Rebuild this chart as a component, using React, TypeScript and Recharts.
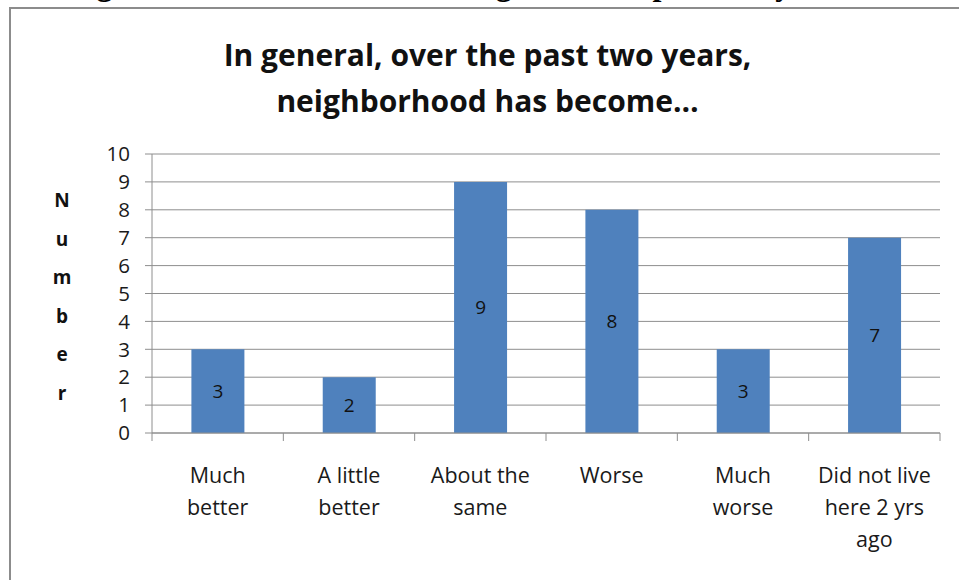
import { BarChart, Bar, XAxis, YAxis, CartesianGrid, LabelList } from 'recharts';

// Answers to "over the past two years, neighborhood has become..."
const categories = ['Much\nbetter', 'A little\nbetter', 'About the\nsame', 'Worse', 'Much\nworse', 'Did not live\nhere 2 yrs\nago'];
const counts = [3, 2, 9, 8, 3, 7];
const yTicks = [0, 1, 2, 3, 4, 5, 6, 7, 8, 9, 10];
const yLabelLetters = ['N', 'u', 'm', 'b', 'e', 'r'];

const data = categories.map((name, i) => ({ name, count: counts[i] }));

const FONT = '"Open Sans", Lato, sans-serif';
const GRID = '#8e8e8e';

// category label, wrapped on \n, plus tick marks at the band edges
function CategoryTick({ x, y, payload, index }: any) {
  const half = payload.offset ?? 0;
  const lines = String(payload.value).split('\n');
  return (
    <g>
      <line x1={x - half} x2={x - half} y1={y - 8} y2={y} stroke={GRID} />
      {index === categories.length - 1 && (
        <line x1={x + half} x2={x + half} y1={y - 8} y2={y} stroke={GRID} />
      )}
      <text x={x} y={y + 42} textAnchor="middle" fontFamily={FONT} fontSize={21.5} fill="#1a1a1a">
        {lines.map((l, i) => (
          <tspan key={i} x={x} dy={i === 0 ? 0 : 32}>{l}</tspan>
        ))}
      </text>
    </g>
  );
}

function StackedYLabel({ viewBox }: any) {
  const cx = viewBox.x - 30;
  const cy = viewBox.y + viewBox.height / 2 + 3;
  const step = 38.5;
  const start = cy - (step * (yLabelLetters.length - 1)) / 2;
  return (
    <text textAnchor="middle" fontFamily={FONT} fontWeight="bold" fontSize={19} fill="#111">
      {yLabelLetters.map((c, i) => (
        <tspan key={i} x={cx} y={start + i * step + 7}>{c}</tspan>
      ))}
    </text>
  );
}

export default function App() {
  return (
    <div style={{ position: 'absolute', left: 0, top: 0, width: 959, height: 580, overflow: 'hidden', background: '#fff' }}>
      {/* document caption, cut by the top edge */}
      <div style={{ position: 'absolute', left: 68, top: -34, whiteSpace: 'nowrap', fontFamily: '"Liberation Serif", serif', fontWeight: 'bold', fontSize: 32 }}>
        Figure 7: Residents' rated change over the past two years, 2010
      </div>
      <div style={{ position: 'absolute', left: 9, top: 7, width: 1000, height: 700, border: '2px solid #8c8c8c', boxSizing: 'border-box' }} />
      <div style={{ position: 'absolute', left: 10, top: 32, width: 955, textAlign: 'center', fontFamily: FONT, fontWeight: 'bold', fontSize: 30, lineHeight: '46px', color: '#111' }}>
        In general, over the past two years,<br />neighborhood has become…
      </div>
      <div style={{ position: 'absolute', left: 0, top: 0 }}>
        <BarChart width={959} height={580} data={data} margin={{ top: 154, right: 19, bottom: 0, left: 92 }} barCategoryGap="30%">
          <CartesianGrid horizontal vertical={false} stroke={GRID} />
          <XAxis
            dataKey="name"
            height={147}
            axisLine={{ stroke: GRID }}
            tickLine={false}
            tickSize={8}
            tickMargin={0}
            interval={0}
            tick={<CategoryTick />}
          />
          <YAxis
            width={60}
            domain={[0, 10]}
            ticks={yTicks}
            interval={0}
            axisLine={{ stroke: GRID }}
            tickLine={{ stroke: GRID }}
            tickSize={7}
            tickMargin={15}
            tick={{ fontFamily: FONT, fontSize: 20.5, fill: '#1a1a1a' }}
            label={{ content: <StackedYLabel /> }}
          />
          <Bar dataKey="count" fill="#4f81bd" isAnimationActive={false}>
            <LabelList dataKey="count" position="center" fontFamily={FONT} fontSize={19} fill="#111" />
          </Bar>
        </BarChart>
      </div>
    </div>
  );
}
